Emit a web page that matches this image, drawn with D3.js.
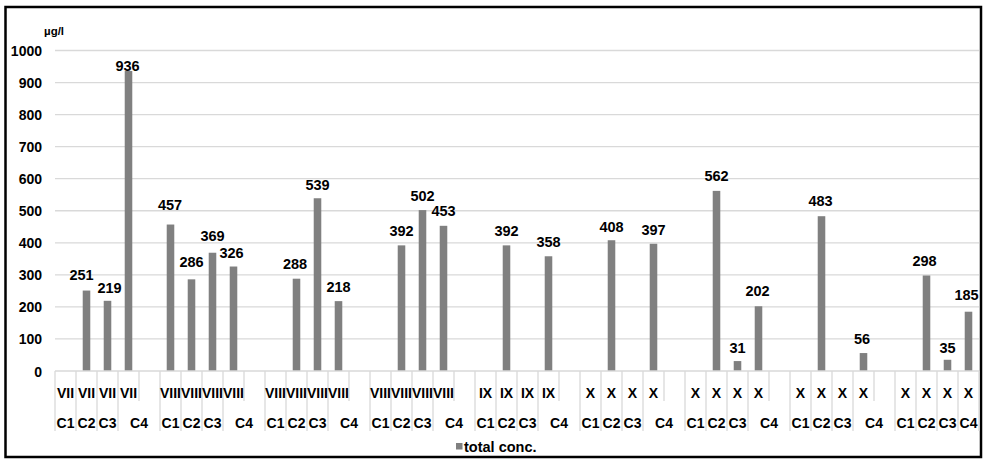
<!DOCTYPE html>
<html>
<head>
<meta charset="utf-8">
<script src="https://cdn.jsdelivr.net/npm/d3@7"></script>
<style>
  html, body { margin: 0; padding: 0; background: #fff; }
  svg { display: block; font-family: "Liberation Sans", Arial, sans-serif; font-weight: bold; }
</style>
</head>
<body>
<svg id="chart" width="984" height="462"></svg>
<script>
// Sampling campaigns (month of each group) and sampling points within each campaign
const months = ["VII", "VIII", "VIII", "VIII", "IX", "X", "X", "X", "X"];
const points = ["C1", "C2", "C3", "C4"];

// Total concentration (µg/l) per campaign, ordered C1..C4; null = no measurement
const totalConc = [
  [null, 251, 219, 936],
  [457, 286, 369, 326],
  [null, 288, 539, 218],
  [null, 392, 502, 453],
  [null, 392, null, 358],
  [null, 408, null, 397],
  [null, 562, 31, 202],
  [null, 483, null, 56],
  [null, 298, 35, 185]
];

// Y axis ticks
const yTicks = [0, 100, 200, 300, 400, 500, 600, 700, 800, 900, 1000];

// Small nudges [dx, dy] for value labels so neighbouring labels do not collide
const labelNudge = [
  [null, [-5, -16], [2, -13], [-1, -5]],
  [[-0.5, -20], [0, -17], [0, -17], [-2, -14]],
  [null, [-1.5, -15], [0, -13], [0, -14]],
  [null, [0, -14.5], [0, -14.5], [0, -14.5]],
  [null, [0, -14.5], null, [0, -14.5]],
  [null, [0, -13], null, [0, -14]],
  [null, [0, -15], [0, -13], [-1, -15.5]],
  [null, [-1, -15.5], null, [-1.5, -14.5]],
  [null, [-2, -14.5], [0, -11.5], [-2, -17]]
];

const svg = d3.select("#chart");

// Outer frame
svg.append("rect")
  .attr("x", 5.5).attr("y", 7).attr("width", 975.5).attr("height", 450)
  .attr("fill", "none").attr("stroke", "#000").attr("stroke-width", 2.5);

// Category slots: four points per campaign plus a spacer slot between campaigns
const slots = [];
months.forEach((m, g) => {
  points.forEach((p, i) => {
    slots.push({ id: `${g}-${i}`, month: m, point: p, group: g, idx: i, value: totalConc[g][i], nudge: labelNudge[g][i] });
  });
  if (g < months.length - 1) slots.push({ id: `${g}-gap`, month: "", point: null, group: g, idx: 4, value: null });
});

const plotL = 55, plotR = 979, plotT = 50.5, plotB = 371;

const x = d3.scaleBand().domain(slots.map(d => d.id)).range([plotL, plotR]).padding(0);
const y = d3.scaleLinear().domain([0, 1000]).range([plotB, plotT]);

// Horizontal gridlines
svg.append("g").selectAll("line").data(yTicks.filter(t => t > 0)).join("line")
  .attr("x1", plotL).attr("x2", plotR)
  .attr("y1", d => y(d)).attr("y2", d => y(d))
  .attr("stroke", "#d9d9d9").attr("stroke-width", 1.3);

// Y axis labels
const yAxis = d3.axisLeft(y).tickValues(yTicks).tickFormat(d3.format("d")).tickSize(0).tickPadding(0);
svg.append("g").attr("transform", `translate(42,0)`).call(yAxis)
  .call(g => g.select(".domain").remove())
  .selectAll("text")
  .attr("font-size", 14).attr("font-family", "Liberation Sans, Arial, sans-serif")
  .attr("font-weight", "bold").attr("fill", "#000").attr("dy", "0.36em");

// Unit label
svg.append("text").attr("x", 44).attr("y", 35)
  .attr("font-size", 11.5).attr("fill", "#000").text("µg/l");

// Bars
const barW = x.bandwidth() * 0.36;
const data = slots.filter(d => d.value != null);
svg.append("g").selectAll("rect").data(data).join("rect")
  .attr("x", d => x(d.id) + (x.bandwidth() - barW) / 2)
  .attr("width", barW)
  .attr("y", d => y(d.value))
  .attr("height", d => y(0) - y(d.value))
  .attr("fill", "#808080");

// Value labels
svg.append("g").selectAll("text").data(data).join("text")
  .attr("x", d => x(d.id) + x.bandwidth() / 2 + d.nudge[0])
  .attr("y", d => y(d.value) + d.nudge[1] + 5)
  .attr("text-anchor", "middle").attr("font-size", 14.5).attr("fill", "#000")
  .text(d => d.value);

// Category axis baseline
svg.append("line").attr("x1", plotL).attr("x2", plotR).attr("y1", plotB).attr("y2", plotB)
  .attr("stroke", "#d9d9d9").attr("stroke-width", 1.3);

// Two-level category axis: inner row (month) and outer row (sampling point)
const innerBottom = 401, outerBottom = 431;
const edges = [];
slots.forEach(d => {
  // a boundary to the left of each slot; outer-level boundaries run through both rows
  edges.push({ x: x(d.id), outer: d.idx !== 4 });
});
edges.push({ x: plotR, outer: true });
svg.append("g").selectAll("line").data(edges).join("line")
  .attr("x1", d => d.x).attr("x2", d => d.x)
  .attr("y1", plotB).attr("y2", d => d.outer ? outerBottom : innerBottom)
  .attr("stroke", "#d9d9d9").attr("stroke-width", 1.3);

svg.append("g").selectAll("text").data(slots.filter(d => d.month)).join("text")
  .attr("x", d => x(d.id) + x.bandwidth() / 2)
  .attr("y", 397.5)
  .attr("text-anchor", "middle").attr("font-size", 14).attr("fill", "#000")
  .text(d => d.month);

// Outer labels: C4 spans its slot plus the spacer that follows
svg.append("g").selectAll("text").data(slots.filter(d => d.point)).join("text")
  .attr("x", d => {
    const hasGap = d.idx === 3 && d.group < months.length - 1;
    return x(d.id) + (hasGap ? x.bandwidth() : x.bandwidth() / 2);
  })
  .attr("y", 427.5)
  .attr("text-anchor", "middle").attr("font-size", 14).attr("fill", "#000")
  .text(d => d.point);

// Legend
const legend = svg.append("g").attr("transform", "translate(456,443)");
legend.append("rect").attr("width", 6.5).attr("height", 6.5).attr("fill", "#808080");
legend.append("text").attr("x", 8).attr("y", 8.5).attr("font-size", 14.5).attr("fill", "#000").text("total conc.");
</script>
</body>
</html>
